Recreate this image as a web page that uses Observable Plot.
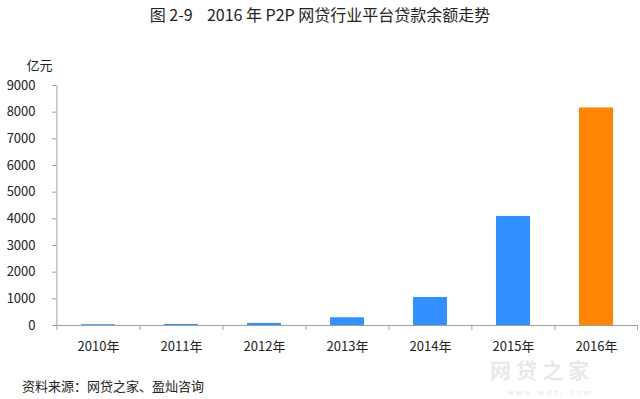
<!DOCTYPE html>
<html>
<head>
<meta charset="utf-8">
<script src="https://cdn.jsdelivr.net/npm/d3@7"></script>
<script src="https://cdn.jsdelivr.net/npm/@observablehq/plot@0.6"></script>
<style>
  html, body { margin: 0; padding: 0; background: #fff; }
  body { width: 640px; height: 399px; position: relative; overflow: hidden;
         font-family: "Noto Sans CJK SC", "Noto Sans", sans-serif; color: #222; }
  #title { height: 28px; line-height: 28px; text-align: center; font-size: 16px; white-space: pre; }
  #caption { height: 26px; line-height: 26px; font-size: 13px; padding-left: 22px; }
  #wm { position: absolute; left: 490px; top: 358px; line-height: 22px; color: rgba(190,190,190,0.35);
        font-size: 21px; font-weight: bold; letter-spacing: 5px; pointer-events: none; }
  #wm2 { position: absolute; left: 508px; top: 388px; line-height: 8px; color: rgba(190,190,190,0.45);
        font-size: 7px; letter-spacing: 3px; }
</style>
</head>
<body>
<div id="title">图 2-9    2016 年 P2P 网贷行业平台贷款余额走势</div>
<div id="chart"></div>
<div id="caption">资料来源：网贷之家、盈灿咨询</div>
<div id="wm">网贷之家</div>
<div id="wm2">www.wdzj.com</div>
<script>
const years = ["2010年", "2011年", "2012年", "2013年", "2014年", "2015年", "2016年"];
const balances = [30, 40, 80, 290, 1050, 4090, 8160];
const yTicks = [0, 1000, 2000, 3000, 4000, 5000, 6000, 7000, 8000, 9000];
const unitLabel = "亿元";
const highlightYear = "2016年";

const data = years.map((year, i) => ({year, value: balances[i]}));

const W = 640, H = 345, ML = 56, MR = 2, MT = 57, MB = 48;
const step = (W - ML - MR) / years.length;
const axisGray = "#a0a0a0";
const blue = "#3391ff", orange = "#ff8503";

const chart = Plot.plot({
  width: W, height: H,
  marginLeft: ML, marginRight: MR, marginTop: MT, marginBottom: MB,
  style: {fontFamily: '"Noto Sans CJK SC", "Noto Sans", sans-serif', fontSize: "13px", color: "#222", background: "#fff"},
  x: {domain: years, paddingInner: 0.59, paddingOuter: 0.295, label: null},
  y: {domain: [0, 9000], label: null},
  marks: [
    Plot.barY(data, {x: "year", y: "value", fill: d => d.year === highlightYear ? orange : blue}),
    Plot.ruleY([0], {stroke: axisGray, strokeWidth: 1}),
    Plot.ruleX([years[0]], {x: d => d, dx: -step / 2, y1: 0, y2: 9000, stroke: axisGray}),
    Plot.ruleX(years, {x: d => d, dx: -step / 2, y1: 0, y2: -190, stroke: axisGray}),
    Plot.ruleX([years[years.length - 1]], {x: d => d, dx: step / 2 - 0.5, y1: 0, y2: -190, stroke: axisGray}),
    Plot.axisY({ticks: yTicks, tickFormat: d => String(d), tickSize: 4, tickPadding: 17, stroke: axisGray, fill: "#222", fontSize: 13, label: null}),
    Plot.axisX({tickSize: 0, tickPadding: 16, fill: "#222", fontSize: 13, label: null}),
    Plot.text([unitLabel], {frameAnchor: "top-left", text: d => d, dx: -30, dy: -25, fontSize: 13, fill: "#222"})
  ]
});
document.getElementById("chart").appendChild(chart);
</script>
</body>
</html>
